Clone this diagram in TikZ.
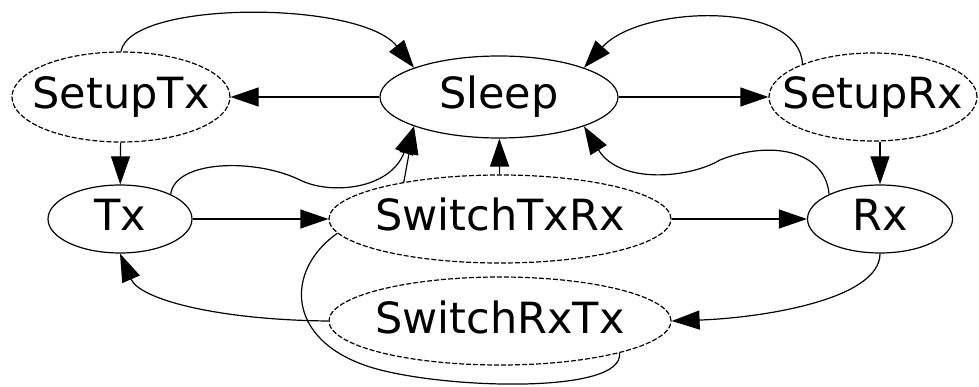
\documentclass[tikz,border=0pt]{standalone}
\usepackage{fontspec}
\setmainfont{DejaVu Sans}
\usetikzlibrary{shapes.geometric,arrows.meta}
\newcommand{\stname}[1]{\makebox[0pt]{#1}}
\begin{document}
\begin{tikzpicture}[x=1pt,y=-1pt,
  state/.style={draw,ellipse,line width=1.2pt,inner sep=0pt,
    font=\fontsize{43}{50}\selectfont,text height=33pt,text depth=9pt},
  dstate/.style={state,dash pattern=on 5pt off 2pt},
  trans/.style={line width=1.2pt,-{Triangle[length=28pt,width=19pt]}}]
\useasboundingbox (0,0) rectangle (979,387);

\node[state,minimum width=238pt,minimum height=82pt] (sleep) at (499,97) {\stname{Sleep}};
\node[dstate,minimum width=218pt,minimum height=90pt] (stx) at (121,97) {\stname{SetupTx}};
\node[dstate,minimum width=208pt,minimum height=88pt] (srx) at (873,97) {\stname{SetupRx}};
\node[state,minimum width=144pt,minimum height=68pt] (tx) at (120,219) {\stname{Tx}};
\node[state,minimum width=145pt,minimum height=68pt] (rx) at (880,219) {\stname{Rx}};
\node[dstate,minimum width=342pt,minimum height=88pt] (stxrx) at (500,219) {\stname{SwitchTxRx}};
\node[dstate,minimum width=342pt,minimum height=88pt] (srxtx) at (500,321) {\stname{SwitchRxTx}};

\draw[trans] (sleep) -- (stx);
\draw[trans] (sleep) -- (srx);
\draw[trans] (stx) -- (tx);
\draw[trans] (srx.south -| rx) -- (rx);
\draw[trans] (tx) -- (stxrx);
\draw[trans] (stxrx) -- (rx);
\draw[trans] (stxrx) -- (sleep);
\draw[trans] (stxrx.159) -- (sleep.199);

\draw[trans] (stx.north) .. controls (130,0) and (360,0) .. (sleep.161);
\draw[trans] (srx.155) .. controls (800,0) and (640,5) .. (sleep.19);
\draw[trans] (tx.26) .. controls (175,160) and (255,158) .. (300,180)
  .. controls (330,195) and (390,190) .. (sleep.199);
\draw[trans] (rx.154) .. controls (825,150) and (770,140) .. (720,160)
  .. controls (690,178) and (620,185) .. (sleep.341);
\draw[trans] (rx.south) .. controls (880,300) and (760,318) .. (srxtx.east);
\draw[trans] (srxtx.west) .. controls (220,320) and (140,300) .. (tx.south);
\draw[line width=1.2pt] (stxrx.185) .. controls (285,270) and (285,340) .. (370,367)
  .. controls (440,389) and (625,395) .. (srxtx.345);
\end{tikzpicture}
\end{document}
